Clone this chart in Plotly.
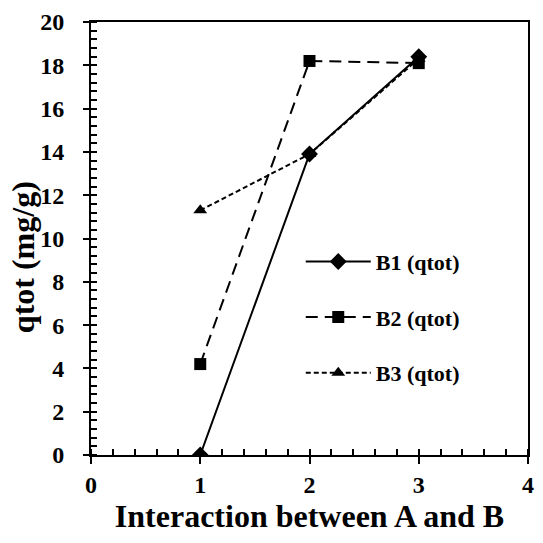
import plotly.graph_objects as go

x_vals = [1, 2, 3]
b1 = [0.0, 13.9, 18.4]
b2 = [4.2, 18.2, 18.1]
b3 = [11.3, 13.9, 18.3]
names = ["B1 (qtot)", "B2 (qtot)", "B3 (qtot)"]
x_ticks = [0, 1, 2, 3, 4]
y_ticks = list(range(0, 21, 2))

FONT = "Liberation Serif"
fig = go.Figure()
styles = [
    (b1, "solid", "diamond", 13),
    (b2, "12px,7px", "square", 12),
    (b3, "5px,3px", "triangle-up", 12),
]
for i, (ys, dash, sym, sz) in enumerate(styles):
    fig.add_trace(go.Scatter(
        x=x_vals, y=ys, name=f"<b>{names[i]}</b>", mode="lines+markers",
        line=dict(color="black", width=2, dash=dash),
        marker=dict(symbol=sym, size=sz, color="black"),
        legendgroup=f"g{i}",
    ))
# invisible helper traces so the overlay tick axes are drawn
for ya in ["y2", "y3"]:
    fig.add_trace(go.Scatter(x=[0], y=[0], xaxis="x2", yaxis=ya, mode="markers",
                             marker=dict(opacity=0), showlegend=False, hoverinfo="skip"))

axis_common = dict(showgrid=False, zeroline=False, showline=True, linecolor="black",
                   linewidth=2, mirror=True, tickwidth=1.5)
tf = dict(family=FONT, size=24, color="black", weight="bold")
ov = dict(showticklabels=False, showgrid=False, zeroline=False, tickcolor="black", tickwidth=1.5)
fig.update_layout(
    width=543, height=543,
    margin=dict(l=91, r=9, t=20, b=88),
    paper_bgcolor="white", plot_bgcolor="white",
    font=dict(family=FONT, size=24, color="black"),
    xaxis=dict(range=[0, 4], tickvals=x_ticks, ticktext=[f"<b>{v}</b>" for v in x_ticks],
               ticks="outside", ticklen=7, tickcolor="black",
               minor=dict(ticks="inside", dtick=0.2, ticklen=6, tickcolor="black", tickwidth=1.5),
               tickfont=tf,
               title=dict(text="<b>Interaction between A and B</b>", font=dict(family=FONT, size=32), standoff=6),
               **axis_common),
    yaxis=dict(range=[0, 20], tickvals=y_ticks, ticktext=[f"<b>{v}</b>" for v in y_ticks],
               ticks="outside", ticklen=20, tickcolor="rgba(255,255,255,0)",
               minor=dict(ticks="inside", dtick=0.4, ticklen=6, tickcolor="black", tickwidth=1.5),
               tickfont=tf,
               **axis_common),
    xaxis2=dict(range=[0, 4], dtick=1, ticks="inside", ticklen=6,
                overlaying="x", anchor="y2", side="bottom", **ov),
    yaxis2=dict(range=[0, 20], dtick=2, ticks="inside", ticklen=6,
                overlaying="y", anchor="x2", side="left", **ov),
    yaxis3=dict(range=[0, 20], dtick=2, ticks="outside", ticklen=7,
                overlaying="y", anchor="x2", side="left", **ov),
    legend=dict(x=0.48, y=0.495, xanchor="left", yanchor="top", bgcolor="rgba(0,0,0,0)",
                itemwidth=65, tracegroupgap=24, traceorder="grouped",
                font=dict(family=FONT, size=22, color="black")),
    annotations=[dict(text="<b>qtot (mg/g)</b>", textangle=-90, xref="paper", yref="paper",
                      x=-0.155, y=0.4575, xanchor="center", yanchor="middle", showarrow=False,
                      font=dict(family=FONT, size=32, color="black"))],
    showlegend=True,
)
fig.write_html("out.html")
